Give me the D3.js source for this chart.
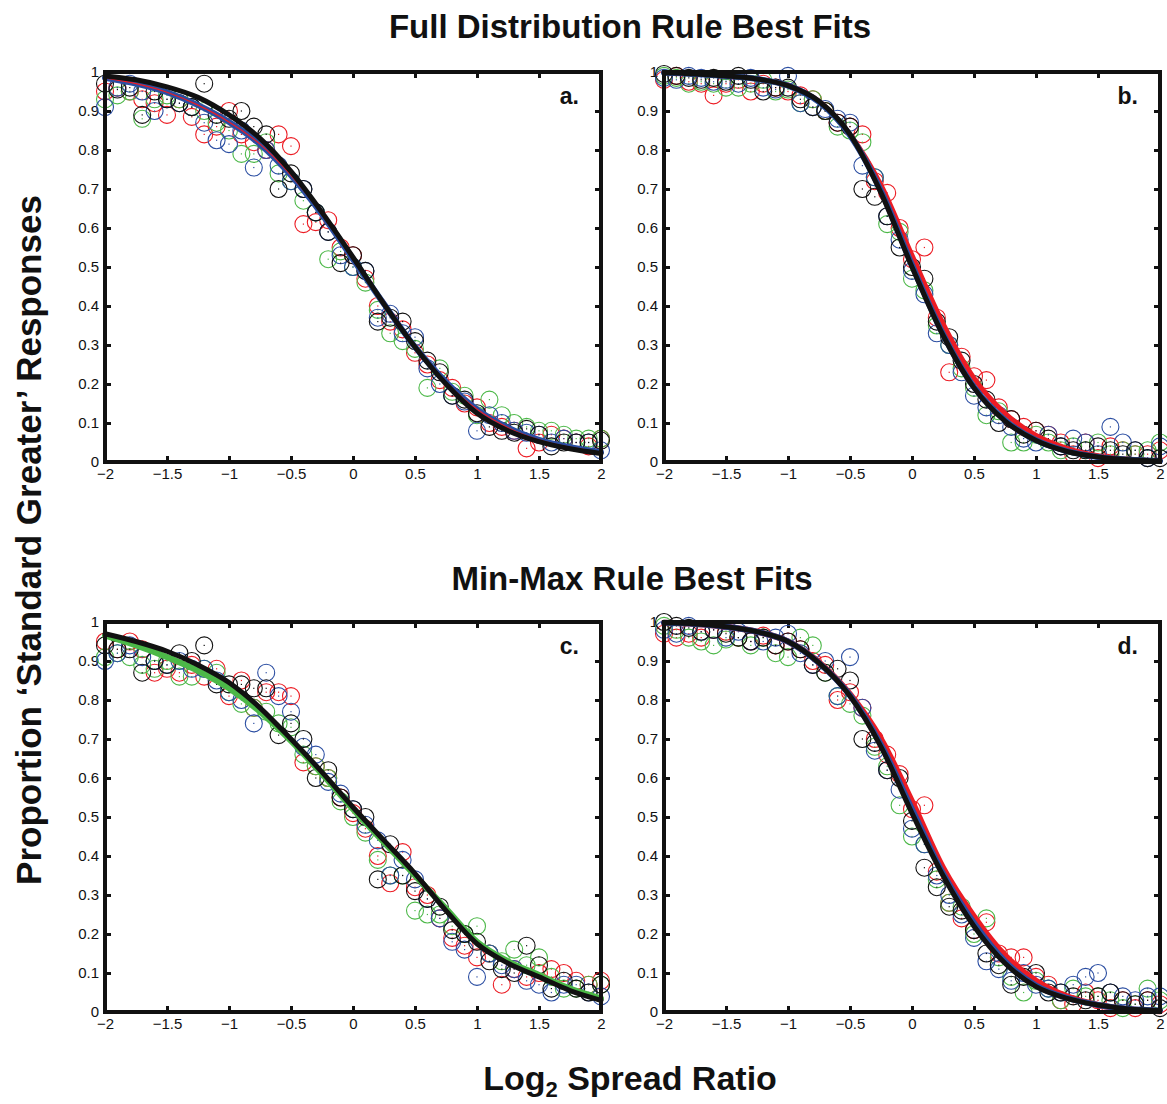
<!DOCTYPE html>
<html>
<head>
<meta charset="utf-8">
<script src="https://cdn.jsdelivr.net/npm/d3@7"></script>
<style>
  body { margin: 0; background: #fff; }
  text { font-family: "Liberation Sans", Arial, sans-serif; }
</style>
</head>
<body>
<svg id="chart" width="1167" height="1104"></svg>
<script>
// x positions of the data points (log2 spread ratio)
const xVals = [-2, -1.9, -1.8, -1.7, -1.6, -1.5, -1.4, -1.3, -1.2, -1.1, -1, -0.9, -0.8, -0.7, -0.6,
  -0.5, -0.4, -0.3, -0.2, -0.1, 0, 0.1, 0.2, 0.3, 0.4, 0.5, 0.6, 0.7, 0.8, 0.9, 1, 1.1, 1.2, 1.3,
  1.4, 1.5, 1.6, 1.7, 1.8, 1.9, 2];
// x positions of the sampled fit curves
const fitX = [-2, -1.75, -1.5, -1.25, -1, -0.75, -0.5, -0.25, 0, 0.25, 0.5, 0.75, 1, 1.25, 1.5, 1.75, 2];

const xTicks = [-2, -1.5, -1, -0.5, 0, 0.5, 1, 1.5, 2];
const yTicks = [0, 0.1, 0.2, 0.3, 0.4, 0.5, 0.6, 0.7, 0.8, 0.9, 1];

// panel a — full distribution rule, data
const aRed = [.95, .96, .95, .93, .92, .89, .93, .885, .84, .86, .90, .84, .82, .80, .84, .81, .61, .615, .62, .55, .53,
  .47, .40, .36, .34, .28, .25, .21, .19, .15, .14, .10, .09, .08, .035, .05, .07, .06, .05, .04, .06];
const aGreen = [.93, .94, .95, .88, .93, .94, .93, .91, .90, .87, .85, .79, .79, .82, .74, .72, .67, .64, .52, .54, .50,
  .46, .39, .33, .31, .29, .19, .24, .18, .17, .12, .16, .12, .10, .09, .08, .08, .07, .06, .06, .06];
const aBlue = [.91, .96, .97, .95, .90, .93, .92, .91, .87, .825, .815, .85, .755, .80, .76, .72, .70, .64, .59, .53, .50,
  .49, .37, .38, .33, .32, .24, .20, .17, .155, .08, .12, .10, .08, .075, .07, .05, .06, .05, .05, .03];
const aBlack = [.97, .955, .96, .89, .95, .93, .92, .91, .97, .89, .88, .90, .86, .84, .70, .74, .70, .64, .59, .51, .53,
  .49, .36, .37, .36, .31, .26, .23, .17, .16, .125, .09, .08, .075, .085, .07, .04, .05, .05, .05, .055];

// panel b — full distribution rule, data
const bRed = [.98, .99, .975, .97, .94, .97, .98, .95, .97, .96, .95, .94, .93, .90, .87, .86, .84, .72, .69, .60, .52,
  .55, .37, .23, .27, .22, .21, .14, .11, .09, .08, .07, .05, .02, .05, .01, .04, .03, .02, .02, .03];
const bGreen = [.99, .985, .97, .975, .97, .96, .96, .97, .98, .95, .955, .92, .93, .90, .86, .85, .82, .73, .61, .59, .47,
  .44, .35, .30, .24, .19, .12, .13, .05, .05, .07, .05, .03, .04, .03, .05, .02, .03, .02, .03, .05];
const bBlue = [.985, .98, .99, .985, .975, .98, .97, .985, .96, .955, .99, .92, .91, .905, .88, .87, .76, .73, .63, .57, .49,
  .43, .33, .30, .23, .17, .14, .12, .09, .06, .05, .07, .04, .06, .05, .02, .09, .05, .03, .01, .04];
const bBlack = [.995, .99, .985, .98, .985, .975, .99, .98, .95, .96, .96, .93, .91, .90, .87, .86, .70, .68, .63, .55, .50,
  .47, .36, .32, .26, .20, .16, .10, .11, .07, .08, .06, .04, .03, .03, .04, .03, .02, .03, .01, .01];

// panel c — min-max rule, data
const cRed = [.95, .93, .95, .93, .87, .88, .87, .89, .86, .88, .81, .85, .78, .82, .82, .81, .64, .63, .60, .55, .51,
  .47, .40, .33, .41, .32, .30, .24, .19, .17, .14, .15, .07, .11, .09, .10, .11, .10, .08, .07, .08];
const cGreen = [.91, .92, .91, .89, .88, .90, .86, .86, .88, .87, .82, .79, .78, .77, .74, .73, .66, .63, .60, .54, .50,
  .46, .39, .35, .35, .26, .25, .25, .22, .20, .22, .15, .13, .16, .12, .14, .09, .06, .06, .07, .07];
const cBlue = [.90, .92, .94, .91, .90, .89, .90, .88, .88, .85, .82, .80, .74, .87, .81, .77, .68, .66, .59, .56, .52,
  .48, .44, .35, .39, .34, .29, .24, .18, .16, .09, .15, .12, .11, .08, .07, .05, .07, .07, .05, .04];
const cBlack = [.94, .93, .93, .87, .90, .89, .92, .90, .94, .84, .84, .84, .83, .83, .71, .74, .70, .60, .62, .55, .52,
  .50, .34, .43, .35, .31, .29, .27, .21, .20, .18, .13, .11, .10, .17, .12, .06, .08, .06, .05, .07];

// panel d — min-max rule, data
const dRed = [.97, .96, .97, .96, .98, .975, .96, .95, .965, .94, .95, .93, .90, .89, .80, .82, .78, .70, .66, .61, .52,
  .53, .36, .28, .24, .21, .23, .15, .14, .14, .09, .07, .03, .02, .05, .03, .01, .03, .01, .03, .02];
const dGreen = [.99, .98, .96, .95, .94, .955, .96, .94, .96, .92, .91, .96, .94, .87, .81, .79, .76, .68, .63, .53, .45,
  .43, .34, .28, .27, .20, .24, .14, .09, .05, .08, .06, .03, .06, .04, .04, .03, .01, .02, .06, .03];
const dBlue = [.98, .97, .99, .975, .98, .96, .975, .95, .95, .96, .97, .92, .89, .90, .81, .91, .78, .67, .62, .57, .47,
  .43, .35, .30, .25, .19, .13, .11, .08, .10, .07, .06, .05, .07, .09, .10, .05, .04, .03, .04, .04];
const dBlack = [1.0, .99, .985, .975, .98, .97, .96, .95, .96, .94, .95, .93, .89, .87, .88, .85, .70, .69, .62, .60, .49,
  .37, .32, .27, .26, .21, .15, .12, .07, .09, .10, .05, .05, .04, .03, .04, .05, .03, .02, .03, .01];

// fitted curves, sampled at fitX
const aFitBlue = [.985, .97, .948, .915, .872, .815, .735, .635, .52, .405, .295, .205, .135, .088, .057, .038, .025];
const aFitBlack = [.99, .98, .962, .935, .89, .83, .745, .64, .525, .405, .295, .20, .125, .08, .052, .034, .022];
const bFitRed = [.998, .995, .99, .982, .965, .925, .84, .71, .53, .355, .215, .125, .068, .035, .016, .007, .003];
const bFitBlue = [.998, .995, .99, .982, .965, .923, .838, .695, .505, .328, .192, .107, .056, .028, .013, .006, .003];
const bFitBlack = [.998, .995, .99, .982, .965, .925, .84, .69, .50, .325, .19, .105, .055, .027, .013, .006, .003];
const cFitGreen = [.965, .94, .91, .875, .83, .77, .695, .61, .52, .435, .35, .265, .18, .13, .095, .06, .035];
const cFitBlack = [.97, .95, .925, .89, .845, .78, .70, .615, .525, .44, .355, .26, .175, .125, .09, .055, .03];
const dFitRed = [.998, .995, .988, .975, .95, .897, .815, .70, .54, .37, .245, .145, .08, .04, .018, .007, .002];
const dFitBlue = [.998, .995, .988, .975, .95, .895, .812, .685, .52, .355, .228, .13, .068, .036, .018, .008, .004];
const dFitBlack = [.998, .995, .988, .975, .95, .895, .81, .68, .51, .35, .22, .125, .065, .035, .018, .008, .004];

const colors = { red: "#ec1c24", green: "#4cb848", blue: "#2b4ea2", black: "#111111" };

const panels = [
  { label: "a.", left: 105, top: 72,
    series: [["red", aRed], ["green", aGreen], ["blue", aBlue], ["black", aBlack]],
    fits: [["green", aFitBlue, 1.5], ["blue", aFitBlue, 6], ["red", aFitBlue, 1.2], ["black", aFitBlack, 5]] },
  { label: "b.", left: 664, top: 72,
    series: [["red", bRed], ["green", bGreen], ["blue", bBlue], ["black", bBlack]],
    fits: [["red", bFitRed, 5], ["green", bFitBlue, 5], ["blue", bFitBlue, 6], ["black", bFitBlack, 5]] },
  { label: "c.", left: 105, top: 622,
    series: [["red", cRed], ["green", cGreen], ["blue", cBlue], ["black", cBlack]],
    fits: [["green", cFitGreen, 6], ["black", cFitBlack, 5]] },
  { label: "d.", left: 664, top: 622,
    series: [["red", dRed], ["green", dGreen], ["blue", dBlue], ["black", dBlack]],
    fits: [["red", dFitRed, 6], ["blue", dFitBlue, 6], ["black", dFitBlack, 5]] }
];

const W = 496, H = 390;
const svg = d3.select("#chart");

const x = d3.scaleLinear().domain([-2, 2]).range([0, W]);
const y = d3.scaleLinear().domain([0, 1]).range([H, 0]);
const fmtX = (d) => (d < 0 ? "\u2212" + Math.abs(d) : String(d));
const fmtY = (d) => String(d);

panels.forEach((p) => {
  const g = svg.append("g").attr("transform", `translate(${p.left},${p.top})`);

  // axes with inward ticks
  const ax = g.append("g").attr("transform", `translate(0,${H})`)
    .call(d3.axisBottom(x).tickValues(xTicks).tickFormat(fmtX).tickSizeInner(-6).tickSizeOuter(0).tickPadding(6));
  const ay = g.append("g")
    .call(d3.axisLeft(y).tickValues(yTicks).tickFormat(fmtY).tickSizeInner(-6).tickSizeOuter(0).tickPadding(6));
  const at = g.append("g")
    .call(d3.axisTop(x).tickValues(xTicks).tickFormat("").tickSizeInner(-6).tickSizeOuter(0));
  const ar = g.append("g").attr("transform", `translate(${W},0)`)
    .call(d3.axisRight(y).tickValues(yTicks).tickFormat("").tickSizeInner(-6).tickSizeOuter(0));
  [ax, ay, at, ar].forEach((a) => {
    a.select(".domain").remove();
    a.selectAll(".tick line").attr("stroke", "#111").attr("stroke-width", 3);
    a.selectAll(".tick text").attr("fill", "#111").style("font-size", "15px");
  });

  // data circles
  p.series.forEach(([c, vals]) => {
    const pts = g.append("g");
    pts.selectAll("circle")
      .data(vals)
      .join("circle")
      .attr("cx", (d, i) => x(xVals[i]))
      .attr("cy", (d) => y(d))
      .attr("r", 8.5)
      .attr("fill", "none")
      .attr("stroke", colors[c])
      .attr("stroke-width", 1.1);
    pts.selectAll("rect")
      .data(vals)
      .join("rect")
      .attr("x", (d, i) => x(xVals[i]) - 0.6)
      .attr("y", (d) => y(d) - 0.6)
      .attr("width", 1.2)
      .attr("height", 1.2)
      .attr("fill", colors[c]);
  });

  // fitted curves
  const line = d3.line()
    .x((d, i) => x(fitX[i]))
    .y((d) => y(d))
    .curve(d3.curveMonotoneX);
  p.fits.forEach(([c, vals, w]) => {
    g.append("path")
      .attr("d", line(vals))
      .attr("fill", "none")
      .attr("stroke", colors[c])
      .attr("stroke-width", w)
      .attr("stroke-linecap", "round");
  });

  // frame
  g.append("rect")
    .attr("width", W)
    .attr("height", H)
    .attr("fill", "none")
    .attr("stroke", "#111")
    .attr("stroke-width", 4);

  g.append("text")
    .attr("x", W - 22)
    .attr("y", 32)
    .attr("text-anchor", "end")
    .style("font-size", "23px")
    .style("font-weight", "bold")
    .attr("fill", "#111")
    .text(p.label);
});

// titles
svg.append("text")
  .attr("x", 630).attr("y", 38)
  .attr("text-anchor", "middle")
  .style("font-size", "33px").style("font-weight", "bold").attr("fill", "#111")
  .text("Full Distribution Rule Best Fits");

svg.append("text")
  .attr("x", 632).attr("y", 590)
  .attr("text-anchor", "middle")
  .style("font-size", "33px").style("font-weight", "bold").attr("fill", "#111")
  .text("Min-Max Rule Best Fits");

svg.append("text")
  .attr("transform", "translate(41,540) rotate(-90)")
  .attr("text-anchor", "middle")
  .style("font-size", "35px").style("font-weight", "bold").attr("fill", "#111")
  .text("Proportion \u2018Standard Greater\u2019 Responses");

const xl = svg.append("text")
  .attr("x", 630).attr("y", 1090)
  .attr("text-anchor", "middle")
  .style("font-size", "34px").style("font-weight", "bold").attr("fill", "#111");
xl.append("tspan").text("Log");
xl.append("tspan").attr("dy", 7).style("font-size", "22px").text("2");
xl.append("tspan").attr("dy", -7).text(" Spread Ratio");
</script>
</body>
</html>
